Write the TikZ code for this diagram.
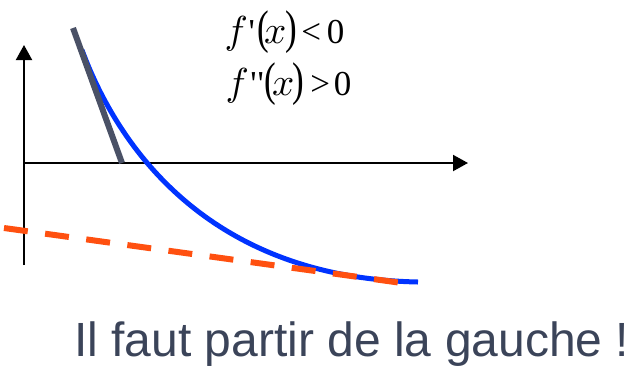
\documentclass[tikz,border=0pt]{standalone}
\usepackage{fontspec}
\usepackage{graphicx}
\setmainfont{Liberation Serif}
\newfontfamily\serifraw{Liberation Serif}[Ligatures=TeXOff]
\newfontfamily\arialf{Liberation Sans}
\usetikzlibrary{arrows.meta}
\definecolor{curveblue}{HTML}{0033FF}
\definecolor{tangentgrey}{HTML}{4A5166}
\definecolor{dashorange}{HTML}{FF5010}
\definecolor{textgrey}{HTML}{3B4459}
\newcommand\myparen[1]{\scalebox{1}[1.35]{#1}}
\newcommand\mvar[1]{\scalebox{3.9}{\fontsize{10}{12}\selectfont$#1$}}
\newcommand\cell[2]{\makebox[#1pt][c]{#2}}
\begin{document}
\begin{tikzpicture}[x=1pt,y=-1pt,
  axis/.style={line width=2pt,-{Triangle[length=15pt,width=16pt]}},
  curve/.style={curveblue,line width=5pt},
  tangent/.style={tangentgrey,line width=6pt},
  asymp/.style={dashorange,line width=6pt,dash pattern=on 24pt off 17.5pt},
  formula/.style={anchor=base west,inner sep=0pt,font=\serifraw\fontsize{35}{35}\selectfont},
  caption/.style={anchor=base west,inner sep=0pt,text=textgrey,font=\arialf\fontsize{48}{48}\selectfont}]
\useasboundingbox (0,0) rectangle (631,365);
\coordinate (yb) at (24,265);
\coordinate (yt) at (24,45);
\coordinate (xl) at (24,163);
\coordinate (xr) at (468,163);
\draw[axis] (yb) -- (yt);
\draw[axis] (xl) -- (xr);
\coordinate (c0) at (82,50);
\coordinate (c1) at (122,158);
\coordinate (c2) at (218,278);
\coordinate (c3) at (418,282);
\draw[curve] (c0) .. controls (c1) and (c2) .. (c3);
\coordinate (t1) at (73,28);
\coordinate (t2) at (122,163);
\draw[tangent] (t1) -- (t2);
\coordinate (a1) at (4,228);
\coordinate (a2) at (402,283);
\draw[asymp] (a1) -- (a2);
\node[formula] (f1) at (225,43) {\cell{22}{\mvar{f}}\cell{9}{'}\cell{14}{\myparen{(}}\cell{10}{\mvar{x}}\cell{22}{\myparen{)}}\cell{18}{<}\cell{31}{0}};
\node[formula] (f2) at (225,95) {\cell{24}{\mvar{f}}\cell{16}{'\kern1pt'}\cell{10}{\myparen{(}}\cell{16}{\mvar{x}}\cell{14}{\myparen{)}}\cell{30}{>}\cell{15}{0}};
\node[caption] (cap) at (74,356) {Il faut partir de la gauche !};
\end{tikzpicture}
\end{document}
